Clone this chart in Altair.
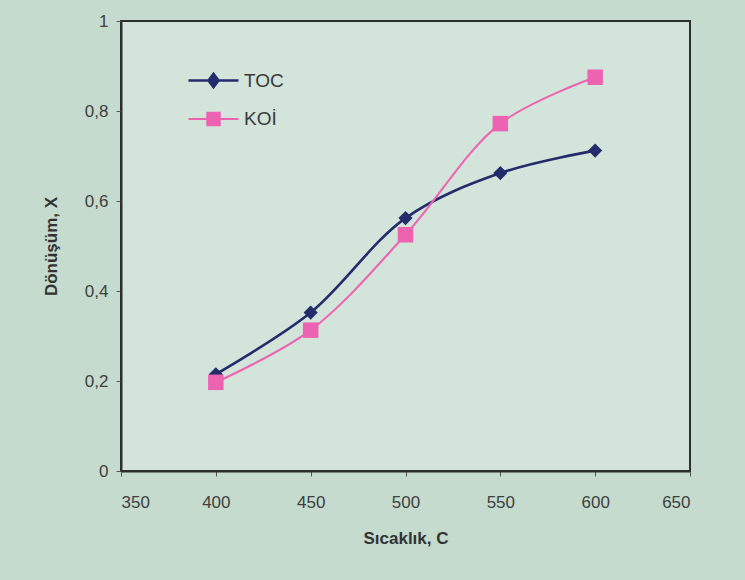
import altair as alt
import pandas as pd

temps = [400, 450, 500, 550, 600]
toc = [0.215, 0.352, 0.562, 0.662, 0.712]
koi = [0.197, 0.313, 0.525, 0.772, 0.875]
series_names = ["TOC", "KOİ"]
series_colors = ["#232d6c", "#ee62b2"]
x_ticks = [350, 400, 450, 500, 550, 600, 650]
y_ticks = [0, 0.2, 0.4, 0.6, 0.8, 1.0]

rows = []
for t, a, b in zip(temps, toc, koi):
    rows.append({"T": t, "X": a, "series": "TOC"})
    rows.append({"T": t, "X": b, "series": "KOİ"})
df = pd.DataFrame(rows)

FONT = "Liberation Sans"

x_enc = alt.X(
    "T:Q",
    scale=alt.Scale(domain=[350, 650], nice=False, zero=False),
    axis=alt.Axis(values=x_ticks, title="Sıcaklık, C", format="d"),
)
y_enc = alt.Y(
    "X:Q",
    scale=alt.Scale(domain=[0, 1], nice=False),
    axis=alt.Axis(
        values=y_ticks,
        title="Dönüşüm, X",
        labelExpr="replace(toString(datum.value), '.', ',')",
    ),
)

color_scale = alt.Scale(domain=series_names, range=series_colors)
base = alt.Chart(df)

path_diamond = "M-1,0H1M-0.2,0L0,-0.26L0.2,0L0,0.26Z"
path_square = "M-1,0H1M-0.25,-0.25H0.25V0.25H-0.25Z"

leg = alt.Legend(
    title=None,
    orient="none",
    legendX=66,
    legendY=33,
    symbolSize=2500,
    symbolStrokeWidth=2.6,
    symbolOpacity=1,
    rowPadding=-16,
    labelFont=FONT,
    labelFontSize=19,
    labelColor="#3a3a3a",
    labelOffset=4,
    padding=0,
)

# legend-only layer (tiny marks hidden beneath the real markers)
legend_layer = base.mark_point(filled=True, opacity=1, strokeWidth=2.6).encode(
    x=x_enc,
    y=y_enc,
    fill=alt.Fill("series:N", scale=color_scale, legend=leg),
    stroke=alt.Stroke("series:N", scale=color_scale, legend=leg),
    shape=alt.Shape("series:N", scale=alt.Scale(domain=series_names, range=[path_diamond, path_square]), legend=leg),
)

lines = base.mark_line(interpolate="catmull-rom").encode(
    x=x_enc,
    y=y_enc,
    color=alt.Color("series:N", scale=color_scale, legend=None),
    strokeWidth=alt.StrokeWidth("series:N", scale=alt.Scale(domain=series_names, range=[2.6, 2.0]), legend=None),
)

points_toc = base.transform_filter("datum.series == 'TOC'").mark_point(
    filled=True, opacity=1, size=200, shape="diamond"
).encode(x=x_enc, y=y_enc, color=alt.Color("series:N", scale=color_scale, legend=None))

points_koi = base.transform_filter("datum.series != 'TOC'").mark_point(
    filled=True, opacity=1, size=240, shape="square"
).encode(x=x_enc, y=y_enc, color=alt.Color("series:N", scale=color_scale, legend=None))

chart = (
    alt.layer(legend_layer, lines, points_toc, points_koi)
    .properties(
        width=569,
        height=450,
        autosize=alt.AutoSizeParams(type="none"),
        padding={"left": 121, "top": 21, "right": 55, "bottom": 109},
        background="#c4dbcd",
    )
    .configure_view(fill="#d3e4db", stroke="#2e2e2e", strokeWidth=2)
    .configure_axis(
        grid=False,
        domainColor="#2e2e2e",
        domainWidth=2,
        tickColor="#555555",
        tickSize=5,
        labelFont=FONT,
        labelFontSize=17,
        labelColor="#404040",
        titleFont=FONT,
        titleFontSize=17,
        titleFontWeight="bold",
        titleColor="#333333",
    )
    .configure_axisX(labelPadding=18, titlePadding=20)
    .configure_axisY(labelPadding=8, titlePadding=24)
)

chart.save("out.html", embed_options={"renderer": "svg", "actions": False})
